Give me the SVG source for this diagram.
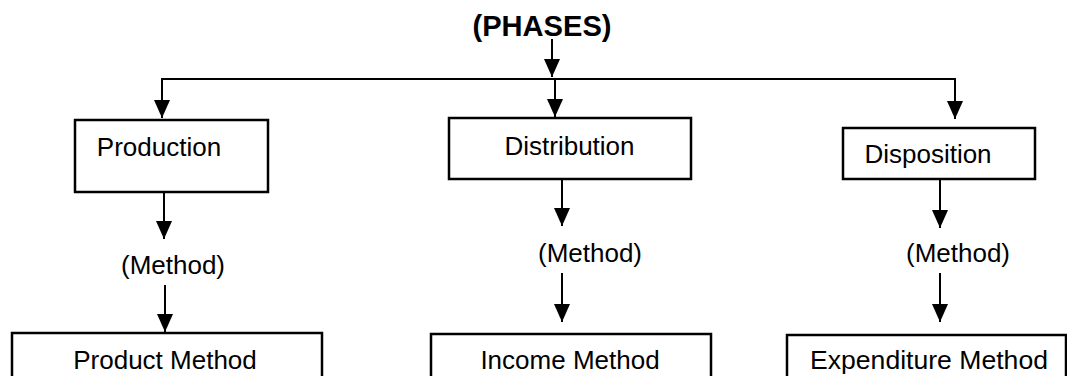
<svg xmlns="http://www.w3.org/2000/svg" width="1067" height="376" viewBox="0 0 1067 376">
<defs>
<style>
.box{fill:#fff;stroke:#000;stroke-width:2.5}
.t{font-family:"Liberation Sans",Arial,sans-serif;font-size:26px;fill:#000;text-anchor:middle}
.h{font-family:"Liberation Sans",Arial,sans-serif;font-size:29px;font-weight:bold;fill:#000;text-anchor:middle}
.c{fill:none;stroke:#000;stroke-width:2}
</style>
<marker id="ah" viewBox="0 0 18 16" refX="18" refY="8" markerWidth="18" markerHeight="16" markerUnits="userSpaceOnUse" orient="auto">
<path d="M0,0 L18,8 L0,16 Z" fill="#000"/>
</marker>
</defs>
<rect width="1067" height="376" fill="#fff"/>
<g id="phases"><text class="h" x="542" y="36" textLength="139" lengthAdjust="spacingAndGlyphs">(PHASES)</text></g>
<g id="production"><rect class="box" x="75" y="120" width="193" height="72"/><text class="t" x="159" y="156">Production</text></g>
<g id="distribution"><rect class="box" x="449" y="118" width="242" height="61"/><text class="t" x="569.5" y="155">Distribution</text></g>
<g id="disposition"><rect class="box" x="843" y="128" width="192" height="51"/><text class="t" x="928" y="163">Disposition</text></g>
<g id="method1"><text class="t" x="173" y="274">(Method)</text></g>
<g id="method2"><text class="t" x="590" y="262">(Method)</text></g>
<g id="method3"><text class="t" x="958" y="262">(Method)</text></g>
<g id="product"><rect class="box" x="12" y="333" width="310" height="60"/><text class="t" x="165" y="369">Product Method</text></g>
<g id="income"><rect class="box" x="431" y="334" width="280" height="60"/><text class="t" x="570" y="369">Income Method</text></g>
<g id="expenditure"><rect class="box" x="787" y="335" width="279" height="60"/><text class="t" x="929" y="369" textLength="238" lengthAdjust="spacingAndGlyphs">Expenditure Method</text></g>
<g id="connectors">
<line class="c" x1="552" y1="39" x2="552" y2="77" marker-end="url(#ah)"/>
<polyline class="c" points="162,79 955,79 955,119" marker-end="url(#ah)"/>
<line class="c" x1="162" y1="78" x2="162" y2="118" marker-end="url(#ah)"/>
<line class="c" x1="555" y1="79" x2="555" y2="117" marker-end="url(#ah)"/>
<line class="c" x1="164" y1="192" x2="164" y2="239" marker-end="url(#ah)"/>
<line class="c" x1="165" y1="285" x2="165" y2="332" marker-end="url(#ah)"/>
<line class="c" x1="562" y1="179" x2="562" y2="226" marker-end="url(#ah)"/>
<line class="c" x1="562" y1="273" x2="562" y2="322" marker-end="url(#ah)"/>
<line class="c" x1="940" y1="179" x2="940" y2="228" marker-end="url(#ah)"/>
<line class="c" x1="940" y1="273" x2="940" y2="322" marker-end="url(#ah)"/>
</g>
</svg>
